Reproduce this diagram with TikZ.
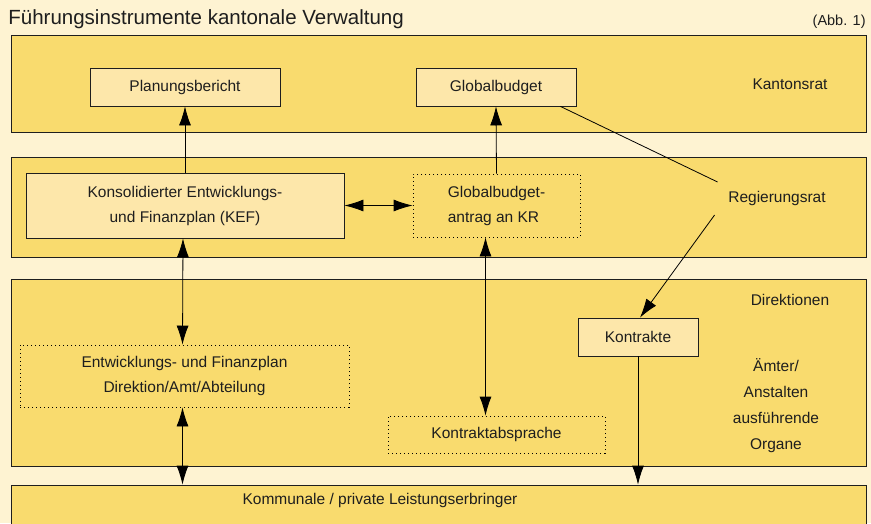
\documentclass[tikz,border=0pt]{standalone}
\usepackage{fontspec}
\setmainfont{Liberation Sans}
\usetikzlibrary{arrows.meta}
\definecolor{creme}{RGB}{254,243,210}
\definecolor{bandgelb}{RGB}{249,219,110}
\definecolor{boxgelb}{RGB}{253,231,170}
\definecolor{schrift}{RGB}{30,30,30}

\begin{document}
\begin{tikzpicture}[x=1pt, y=-1pt, >={Latex[length=19pt,width=12pt]}, line width=0.8pt,
    band/.style={draw=schrift, fill=bandgelb, minimum width=855pt, inner sep=0pt},
    box/.style={draw=schrift, fill=boxgelb, inner sep=0pt, text=schrift, font=\fontsize{15.5}{25}\selectfont, align=center},
    dotbox/.style={draw, dash pattern=on 1pt off 3pt, inner sep=0pt, text=schrift, font=\fontsize{15.5}{25}\selectfont},
    txt/.style={text=schrift, font=\fontsize{15.5}{26}\selectfont, align=center}]
        \useasboundingbox[fill=creme] (0, 0) rectangle (871, 523);
        \node[anchor=west, inner sep=0pt, text=schrift, font=\fontsize{20.5}{24}\selectfont] (titel) at (8, 19){Führungsinstrumente kantonale Verwaltung};
        \node[anchor=east, inner sep=0pt, text=schrift, font=\fontsize{14.5}{16}\selectfont] (abb) at (866, 22){(Abb. 1)};
        % Ebenen
        \node[band, minimum height=97pt] (kr) at (438.5, 83.5){};
        \node[band, minimum height=100pt] (rr) at (438.5, 207){};
        \node[band, minimum height=187pt] (dir) at (438.5, 372.5){};
        \node[band, minimum height=50pt] (kom) at (438.5, 510){};
        % Kaesten
        \node[box, minimum width=190pt, minimum height=38pt] (pb) at (185, 87){Planungsbericht};
        \node[box, minimum width=160pt, minimum height=38pt] (gb) at (496, 87){Globalbudget};
        \node[box, minimum width=318pt, minimum height=65pt] (kef) at (185, 205.5){Konsolidierter Entwicklungs-\\und Finanzplan (KEF)};
        \node[dotbox, minimum width=167pt, minimum height=63pt, align=left] (ga) at (496.5, 205.5){Globalbudget-\\antrag an KR};
        \node[dotbox, minimum width=329pt, minimum height=62pt, align=center] (ef) at (184.5, 376){Entwicklungs- und Finanzplan\\Direktion/Amt/Abteilung};
        \node[box, minimum width=120pt, minimum height=38pt] (ko) at (638, 337){Kontrakte};
        \node[dotbox, minimum width=217pt, minimum height=37pt] (ka) at (496.5, 434.5){Kontraktabsprache};
        % Beschriftungen
        \node[txt] (kantonsrat) at (790, 84){Kantonsrat};
        \node[txt] (regrat) at (777, 198){Regierungsrat};
        \node[txt] (direktionen) at (790, 300){Direktionen};
        \node[txt] (aemter) at (776, 406){Ämter/\\Anstalten\\ausführende\\Organe};
        \node[txt] (leist) at (380, 500){Kommunale / private Leistungserbringer};
        % Verbindungen
        \draw[->] (kef.north) -- (pb.south);
        \draw[->] (ga.north) -- (gb.south);
        \draw[<->] (kef.east) -- (ga.west);
        \draw[<->] ([xshift=-2pt]kef.south) -- ([xshift=-2pt]ef.north);
        \draw[<->] ([xshift=-2pt]ef.south) -- ([xshift=-2pt]ef.south |- kom.north);
        \draw[<->] ([xshift=-11pt]ga.south) -- ([xshift=-11pt]ga.south |- ka.north);
        \draw ([xshift=-16pt]gb.south east) -- ([shift={(-7pt,16pt)}]regrat.west);
        \draw[->] ([shift={(-10pt,-17pt)}]regrat.west) -- ([xshift=2pt]ko.north);
        \draw[->] (ko.south) -- (ko.south |- kom.north);
    \end{tikzpicture}
\end{document}
